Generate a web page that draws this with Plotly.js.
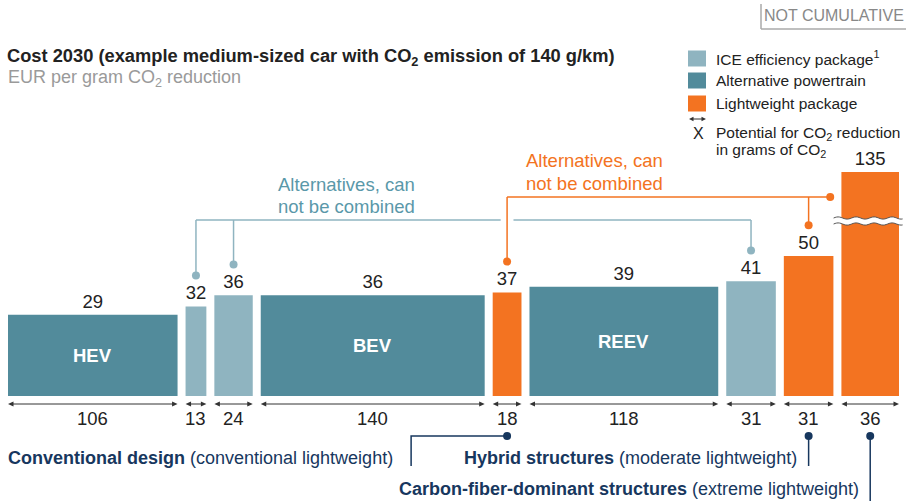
<!DOCTYPE html>
<html><head><meta charset="utf-8">
<script src="https://cdn.plot.ly/plotly-3.0.1.min.js"></script>
<style>html,body{margin:0;padding:0;background:#fff}#chart{width:906px;height:501px}</style>
</head><body><div id="chart"></div>
<script>
// ---- data ----
const barNames   = ['HEV', '', '', 'BEV', '', 'REEV', '', '', ''];
const costs      = [29, 32, 36, 36, 37, 39, 41, 50, 135];          // EUR per gram CO2
const potentials = [106, 13, 24, 140, 18, 118, 31, 31, 36];        // grams of CO2
const groups     = ['Alternative powertrain', 'ICE efficiency package', 'ICE efficiency package',
                    'Alternative powertrain', 'Lightweight package', 'Alternative powertrain',
                    'ICE efficiency package', 'Lightweight package', 'Lightweight package'];
const groupNames = ['ICE efficiency package', 'Alternative powertrain', 'Lightweight package'];
const legendLabels = ['ICE efficiency package<sup>1</sup>', 'Alternative powertrain', 'Lightweight package'];
const tealAlternatives   = [1, 2, 6];   // indexes of bars joined by the teal bracket
const orangeAlternatives = [4, 7, 8];   // indexes of bars joined by the orange bracket
const bracketText = ['Alternatives, can', 'not be combined'];
const lightweightNotes = [
  {bar: 4, text: '<b>Conventional design</b> (conventional lightweight)'},
  {bar: 7, text: '<b>Hybrid structures</b> (moderate lightweight)'},
  {bar: 8, text: '<b>Carbon-fiber-dominant structures</b> (extreme lightweight)'}
];

// ---- styling / layout constants ----
const colors = {'ICE efficiency package': '#8fb4c0', 'Alternative powertrain': '#528b9b', 'Lightweight package': '#f37321'};
const TEAL_TXT = '#5a98a9', TEAL_LN = '#8fb4c0', ORANGE = '#f37321', NAVY = '#17375e', INK = '#222', ARROW = '#333';
const W = 906, H = 501, L = 8, R = 7;
const GAP = 5;            // gap between bars (x units)
const PXU = 1.6;          // px per x unit
const PYU = 2.8;          // px per y unit
const BASE = 396;         // baseline pixel row
const CAP = 80;           // displayed height of broken bar
const FONT = 'Liberation Sans, Arial, sans-serif';
const FS = 18.5;          // main label font size

// bar positions
const starts = [];
let s = 0;
potentials.forEach((w, i) => { starts.push(s); s += w + GAP; });
const total = s - GAP;
const centers = potentials.map((w, i) => starts[i] + w / 2);
const shown = costs.map(v => Math.min(v, CAP));

const uy = py => (BASE - py) / PYU;            // pixel row -> y data
const ux = px => (px - L) / PXU;               // pixel col -> x data
const pxp = px => (px - L) / (W - L - R);      // pixel col -> paper x
const pyp = py => 1 - py / H;                  // pixel row -> paper y

// ---- traces ----
const traces = groupNames.map(g => {
  const idx = groups.map((gg, i) => gg === g ? i : -1).filter(i => i >= 0);
  return {
    type: 'bar', name: g,
    x: idx.map(i => centers[i]), width: idx.map(i => potentials[i]),
    y: idx.map(i => shown[i]),
    text: idx.map(i => String(costs[i])), textposition: 'outside',
    textfont: {size: FS, color: INK, family: FONT},
    constraintext: 'none', cliponaxis: false,
    marker: {color: colors[g], line: {width: 0}},
    showlegend: false, hoverinfo: 'skip'
  };
});

// connector dots
const dotX = [], dotY = [], dotC = [];
const TEAL_Y = uy(220), ORANGE_Y = uy(197), NAVY_Y = uy(436), DOT_OFF = 11;
tealAlternatives.forEach(i => { dotX.push(centers[i]); dotY.push(costs[i] + DOT_OFF); dotC.push(TEAL_LN); });
orangeAlternatives.forEach(i => {
  if (costs[i] > CAP) { dotX.push(starts[i] - 7); dotY.push(ORANGE_Y); }
  else { dotX.push(centers[i]); dotY.push(costs[i] + DOT_OFF); }
  dotC.push(ORANGE);
});
lightweightNotes.forEach(n => { dotX.push(centers[n.bar]); dotY.push(NAVY_Y); dotC.push(NAVY); });
traces.push({type: 'scatter', mode: 'markers', x: dotX, y: dotY, cliponaxis: false,
  marker: {size: 8, color: dotC}, showlegend: false, hoverinfo: 'skip'});

// ---- shapes ----
const shapes = [];
const line = (x0, y0, x1, y1, color, w) => shapes.push({type: 'line', xref: 'x', yref: 'y', x0, y0, x1, y1, line: {color, width: w || 1.5}});

// teal bracket
const tFirst = centers[tealAlternatives[0]], tLast = centers[tealAlternatives[tealAlternatives.length - 1]];
const crossX = centers[orangeAlternatives[0]];
line(tFirst, TEAL_Y, crossX - 4, TEAL_Y, TEAL_LN);
line(crossX + 4, TEAL_Y, tLast, TEAL_Y, TEAL_LN);
tealAlternatives.forEach(i => line(centers[i], TEAL_Y, centers[i], costs[i] + DOT_OFF, TEAL_LN));
// orange bracket
const oLastI = orangeAlternatives[orangeAlternatives.length - 1];
line(crossX, ORANGE_Y, starts[oLastI] - 7, ORANGE_Y, ORANGE);
orangeAlternatives.forEach(i => { if (costs[i] <= CAP) line(centers[i], ORANGE_Y, centers[i], costs[i] + DOT_OFF, ORANGE); });
// navy notes connectors
const c4 = centers[lightweightNotes[0].bar];
shapes.push({type: 'path', xref: 'x', yref: 'y', path: `M${c4},${NAVY_Y} L${c4 - 60},${NAVY_Y} L${c4 - 60},${uy(466)}`, line: {color: NAVY, width: 1.5}});
line(centers[lightweightNotes[1].bar], NAVY_Y, centers[lightweightNotes[1].bar], uy(466), NAVY);
line(centers[lightweightNotes[2].bar], NAVY_Y, centers[lightweightNotes[2].bar], uy(501), NAVY);

// double-headed width arrows under bars
const ARROW_Y = uy(404), HL = 5.5 / PXU, HH = 2.6 / PYU;
potentials.forEach((w, i) => {
  const a = starts[i], b = starts[i] + w;
  shapes.push({type: 'line', xref: 'x', yref: 'y', x0: a + HL * 0.8, x1: b - HL * 0.8, y0: ARROW_Y, y1: ARROW_Y, line: {color: ARROW, width: 1}});
  shapes.push({type: 'path', xref: 'x', yref: 'y', path: `M${a},${ARROW_Y} L${a + HL},${ARROW_Y + HH} L${a + HL},${ARROW_Y - HH} Z`, fillcolor: ARROW, line: {width: 0}});
  shapes.push({type: 'path', xref: 'x', yref: 'y', path: `M${b},${ARROW_Y} L${b - HL},${ARROW_Y + HH} L${b - HL},${ARROW_Y - HH} Z`, fillcolor: ARROW, line: {width: 0}});
});

// break marker on capped bar
const bi = costs.findIndex(v => v > CAP);
if (bi >= 0) {
  const yc = uy(221), half = 3 / PYU, amp = 1.1 / PYU;
  const xa = L + starts[bi] * PXU - 8, xb = W - 3;
  const pts = [];
  for (let px = xa; px <= xb + 0.01; px += 1.5) pts.push(px);
  const wave = (off) => pts.map(px => [pxp(px), yc + off + amp * Math.sin((px - xa) / 18 * 2 * Math.PI)]);
  const top = wave(half), bot = wave(-half);
  const poly = 'M' + top.map(p => p.join(',')).join(' L') + ' L' + bot.slice().reverse().map(p => p.join(',')).join(' L') + ' Z';
  shapes.push({type: 'path', xref: 'paper', yref: 'y', path: poly, fillcolor: '#fff', line: {width: 0}});
  shapes.push({type: 'path', xref: 'paper', yref: 'y', path: 'M' + top.map(p => p.join(',')).join(' L'), line: {color: '#555', width: 1}});
  shapes.push({type: 'path', xref: 'paper', yref: 'y', path: 'M' + bot.map(p => p.join(',')).join(' L'), line: {color: '#555', width: 1}});
}

// legend squares
const legRows = [58.5, 80.5, 103.5];
groupNames.forEach((g, k) => shapes.push({type: 'rect', xref: 'paper', yref: 'paper',
  x0: pxp(688), x1: pxp(706), y0: pyp(legRows[k] - 8), y1: pyp(legRows[k] + 8), fillcolor: colors[g], line: {width: 0}}));
// legend double arrow symbol
{
  const a = 689, b = 706, yy = 119;
  shapes.push({type: 'line', xref: 'paper', yref: 'paper', x0: pxp(a + 3), x1: pxp(b - 3), y0: pyp(yy), y1: pyp(yy), line: {color: ARROW, width: 1}});
  shapes.push({type: 'path', xref: 'paper', yref: 'paper', path: `M${pxp(a)},${pyp(yy)} L${pxp(a + 4.5)},${pyp(yy - 2.3)} L${pxp(a + 4.5)},${pyp(yy + 2.3)} Z`, fillcolor: ARROW, line: {width: 0}});
  shapes.push({type: 'path', xref: 'paper', yref: 'paper', path: `M${pxp(b)},${pyp(yy)} L${pxp(b - 4.5)},${pyp(yy - 2.3)} L${pxp(b - 4.5)},${pyp(yy + 2.3)} Z`, fillcolor: ARROW, line: {width: 0}});
}
// NOT CUMULATIVE box edges
shapes.push({type: 'line', xref: 'paper', yref: 'paper', x0: pxp(761), x1: pxp(761), y0: pyp(4), y1: pyp(29), line: {color: '#aaa', width: 1.5}});
shapes.push({type: 'line', xref: 'paper', yref: 'paper', x0: pxp(761), x1: pxp(906), y0: pyp(29), y1: pyp(29), line: {color: '#aaa', width: 1.5}});

// ---- annotations ----
const ann = [];
const pAnn = (px, py, text, font, xanchor) => ann.push({x: pxp(px), y: pyp(py), xref: 'paper', yref: 'paper',
  xanchor: xanchor || 'left', yanchor: 'middle', text, showarrow: false, font});
// names inside bars
barNames.forEach((n, i) => { if (n) ann.push({x: centers[i], y: shown[i] / 2, xref: 'x', yref: 'y', xanchor: 'center', yanchor: 'middle',
  text: '<b>' + n + '</b>', showarrow: false, font: {size: FS, color: '#fff'}}); });
// width labels
const WLABEL_Y = uy(418);
potentials.forEach((w, i) => ann.push({x: centers[i], y: WLABEL_Y, xref: 'x', yref: 'y', xanchor: 'center', yanchor: 'middle',
  text: String(w), showarrow: false, font: {size: FS, color: INK}}));
// bracket texts (one annotation per line)
[184, 206].forEach((py, k) => ann.push({x: ux(347), y: uy(py), xref: 'x', yref: 'y', xanchor: 'center', yanchor: 'middle',
  text: bracketText[k], showarrow: false, font: {size: FS, color: TEAL_TXT}}));
[160, 183].forEach((py, k) => ann.push({x: ux(595), y: uy(py), xref: 'x', yref: 'y', xanchor: 'center', yanchor: 'middle',
  text: bracketText[k], showarrow: false, font: {size: FS, color: ORANGE}}));
// lightweight notes
const NFS = 18;
pAnn(6, 458, lightweightNotes[0].text, {size: NFS, color: NAVY});
ann.push({x: centers[lightweightNotes[1].bar] - 6, y: uy(458), xref: 'x', yref: 'y', xanchor: 'right', yanchor: 'middle', text: lightweightNotes[1].text, showarrow: false, font: {size: NFS, color: NAVY}});
ann.push({x: centers[lightweightNotes[2].bar] - 6, y: uy(489), xref: 'x', yref: 'y', xanchor: 'right', yanchor: 'middle', text: lightweightNotes[2].text, showarrow: false, font: {size: NFS, color: NAVY}});
// subtitle
pAnn(6, 79, 'EUR per gram CO<sub>2</sub> reduction', {size: 18, color: '#9a9a9a'});
// NOT CUMULATIVE
pAnn(762, 15, 'NOT CUMULATIVE', {size: 16, color: '#888'});
// legend texts
legendLabels.forEach((t, k) => pAnn(714, legRows[k], t, {size: 15.5, color: INK}));
pAnn(698, 134, 'X', {size: 16, color: INK}, 'center');
pAnn(714, 133, 'Potential for CO<sub>2</sub> reduction', {size: 15.5, color: INK});
pAnn(714, 151, 'in grams of CO<sub>2</sub>', {size: 15.5, color: INK});

const layout = {
  width: W, height: H, margin: {l: L, r: R, t: 0, b: 0, pad: 0},
  paper_bgcolor: '#fff', plot_bgcolor: '#fff',
  font: {family: FONT, color: INK},
  title: {text: '<b>Cost 2030 (example medium-sized car with CO<sub>2</sub> emission of 140 g/km)</b>',
    x: 7 / W, xanchor: 'left', xref: 'container', y: 1 - 56 / H, yanchor: 'middle', yref: 'container',
    font: {size: 18.3, color: INK, family: FONT}},
  barmode: 'overlay', showlegend: false, hovermode: false,
  xaxis: {range: [0, total], visible: false, fixedrange: true},
  yaxis: {range: [uy(H), uy(0)], visible: false, zeroline: false, fixedrange: true},
  shapes: shapes, annotations: ann
};
Plotly.newPlot('chart', traces, layout, {displayModeBar: false, staticPlot: true});
</script></body></html>
